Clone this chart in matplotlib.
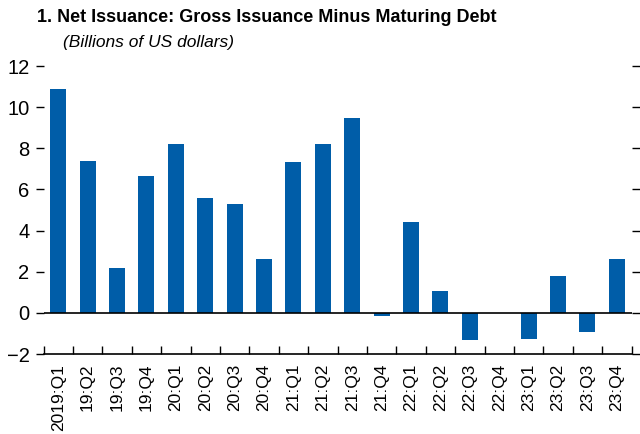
import matplotlib
matplotlib.use("Agg")
import matplotlib.pyplot as plt
from matplotlib import font_manager

# ------------------------------------------------------
# Data
quarters = ["2019:Q1", "19:Q2", "19:Q3", "19:Q4", "20:Q1", "20:Q2", "20:Q3", "20:Q4",
            "21:Q1", "21:Q2", "21:Q3", "21:Q4", "22:Q1", "22:Q2", "22:Q3", "22:Q4",
            "23:Q1", "23:Q2", "23:Q3", "23:Q4"]
net_issuance = [10.86, 7.40, 2.19, 6.67, 8.23, 5.60, 5.31, 2.63,
                7.31, 8.23, 9.45, -0.13, 4.43, 1.07, -1.30, 0.0,
                -1.25, 1.80, -0.91, 2.63]
y_ticks = [-2, 0, 2, 4, 6, 8, 10, 12]
y_labels = ["\u22122", "0", "2", "4", "6", "8", "10", "12"]

# ------------------------------------------------------
# Font
names = {f.name for f in font_manager.fontManager.ttflist}
fam = "Liberation Sans Narrow" if "Liberation Sans Narrow" in names else "Liberation Sans"
plt.rcParams["font.family"] = [fam, "DejaVu Sans"]

blue = "#005DA8"

fig = plt.figure(figsize=(6.4, 4.34), dpi=100)
ax = fig.add_axes([43.5 / 640, 1 - 354 / 434, 588 / 640, 288 / 434])

x = list(range(len(quarters)))
ax.bar(x, net_issuance, width=0.55, color=blue, zorder=2)
ax.axhline(0, color="black", lw=1.2, zorder=3)

ax.set_xlim(-0.5, len(quarters) - 0.5)
ax.set_ylim(-2, 12)

for s in ["top", "left", "right"]:
    ax.spines[s].set_visible(False)
ax.spines["bottom"].set_linewidth(1.2)

# y ticks on both sides, labels only on the left
ax.set_yticks(y_ticks)
ax.set_yticklabels(y_labels, fontsize=14.5)
ax.tick_params(axis="y", which="both", direction="out", length=6, width=1,
               left=True, right=True, labelleft=True, labelright=False, pad=4)

# x ticks at category boundaries, pointing up
ax.set_xticks(x)
ax.set_xticklabels(quarters, rotation=90, fontsize=12.5)
ax.tick_params(axis="x", which="major", length=0, pad=7)
ax.set_xticks([i - 0.5 for i in range(len(quarters) + 1)], minor=True)
ax.tick_params(axis="x", which="minor", direction="in", length=6, width=1)

fig.text(37 / 640, 1 - 18 / 434, "1. Net Issuance: Gross Issuance Minus Maturing Debt",
         fontsize=13, fontweight="bold", va="center", ha="left")
fig.text(63 / 640, 1 - 42 / 434, "(Billions of US dollars)",
         fontsize=12.5, fontstyle="italic", va="center", ha="left")

fig.savefig("out.png", dpi=100)
